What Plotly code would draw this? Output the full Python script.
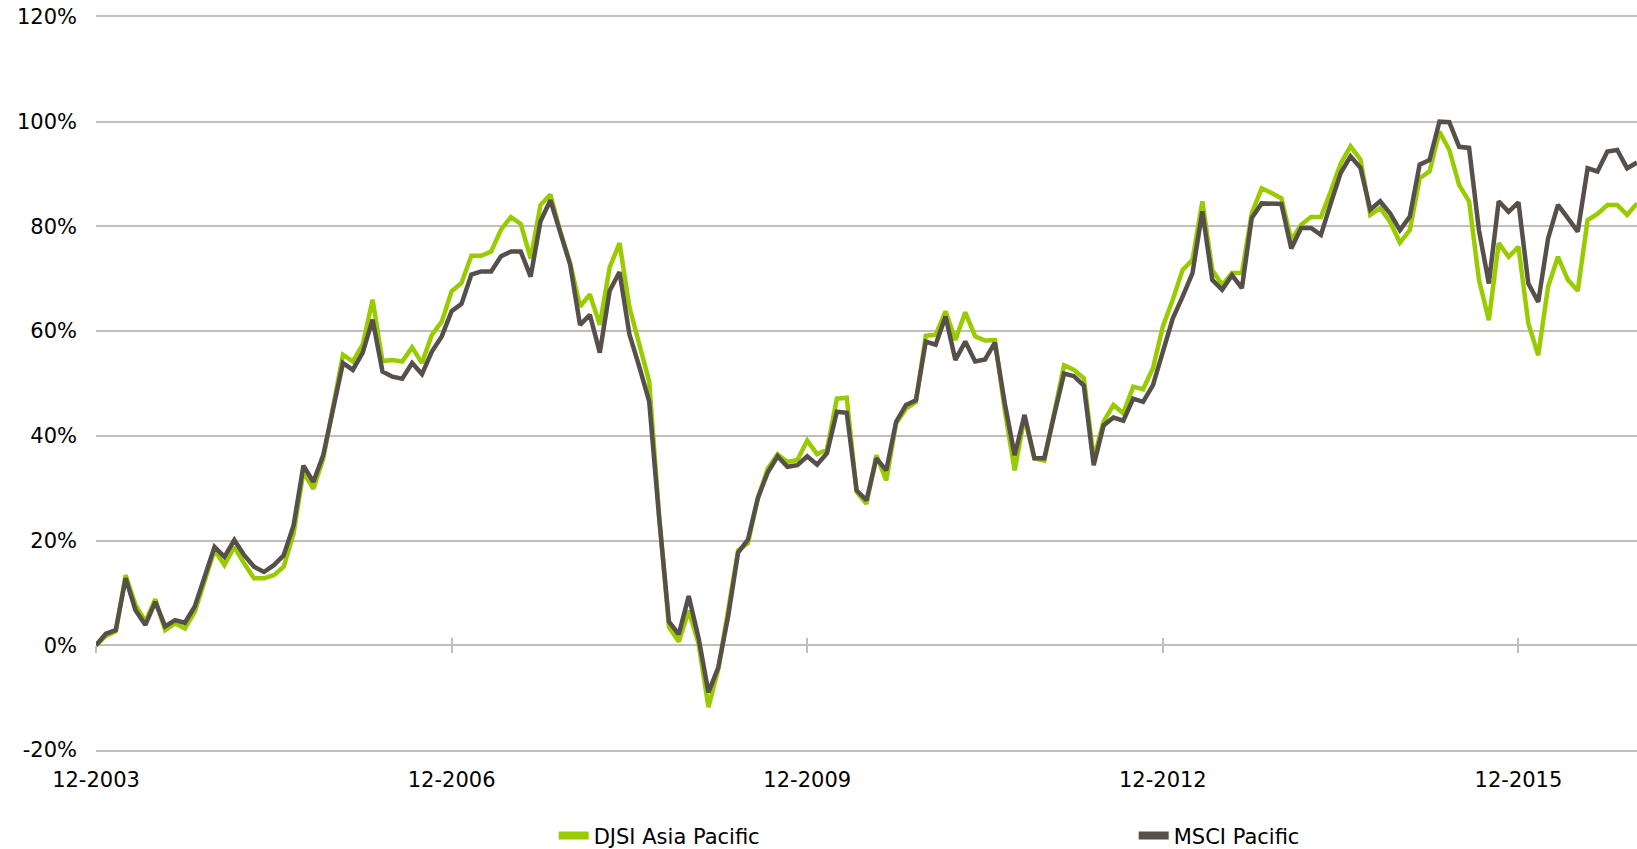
import plotly.graph_objects as go

# Monthly labels 12-2003 .. 12-2016
months = []
y0, m0 = 2003, 12
for k in range(157):
    mm = (m0 - 1 + k) % 12 + 1
    yy = y0 + (m0 - 1 + k) // 12
    months.append(f"{mm:02d}-{yy}")

tick_labels = ["12-2003", "12-2006", "12-2009", "12-2012", "12-2015"]

djsi = [
    0.0, 1.8, 2.7, 13.4, 7.7, 4.5, 8.8, 2.9, 4.2, 3.2,
    6.4, 12.1, 18.2, 15.3, 18.8, 15.6, 12.8, 12.8, 13.4, 15.0,
    21.3, 33.1, 29.9, 35.6, 45.5, 55.5, 54.2, 57.4, 66.0, 54.3,
    54.5, 54.2, 56.9, 53.9, 59.3, 61.8, 67.6, 69.2, 74.4, 74.4,
    75.2, 79.4, 81.8, 80.5, 73.9, 84.1, 86.1, 79.0, 73.0, 64.7,
    67.0, 61.2, 72.2, 76.8, 64.6, 57.3, 50.4, 25.0, 3.5, 0.7,
    6.6, 0.3, -11.8, -4.5, 6.3, 18.1, 19.5, 28.1, 33.7, 36.5,
    35.0, 35.4, 39.1, 36.5, 37.4, 47.1, 47.3, 29.3, 27.0, 36.3,
    31.5, 42.4, 45.2, 46.5, 59.1, 59.3, 63.8, 58.3, 63.6, 59.0,
    58.2, 58.3, 44.9, 33.4, 43.6, 35.7, 35.3, 44.9, 53.5, 52.6,
    51.0, 35.6, 42.7, 45.9, 44.3, 49.4, 48.9, 52.9, 60.9, 66.0,
    71.7, 73.6, 84.8, 71.7, 68.8, 71.1, 71.1, 82.5, 87.3, 86.4,
    85.4, 77.4, 80.3, 81.8, 81.8, 86.7, 92.0, 95.3, 92.8, 82.2,
    83.5, 80.9, 76.9, 79.3, 89.2, 90.5, 98.1, 94.6, 87.9, 84.8,
    69.8, 62.1, 76.8, 74.2, 76.1, 61.5, 55.4, 68.5, 74.2, 69.8,
    67.7, 81.2, 82.4, 84.1, 84.1, 82.2, 84.4,
]

msci = [
    0.0, 2.2, 2.9, 12.8, 6.7, 3.9, 8.3, 3.6, 4.8, 4.3,
    7.4, 13.1, 18.8, 16.9, 20.1, 17.2, 15.0, 14.0, 15.3, 17.2,
    22.9, 34.3, 31.2, 36.3, 45.0, 53.9, 52.6, 55.9, 62.2, 52.3,
    51.3, 50.9, 53.9, 51.8, 56.1, 59.0, 63.8, 65.2, 70.8, 71.4,
    71.4, 74.3, 75.2, 75.2, 70.4, 81.0, 85.0, 79.0, 72.7, 61.2,
    63.1, 55.9, 67.7, 71.3, 59.4, 53.2, 46.6, 24.5, 4.5, 2.1,
    9.4, 1.4, -9.0, -4.2, 5.6, 17.7, 20.2, 28.1, 33.0, 36.1,
    34.1, 34.4, 36.1, 34.5, 36.7, 44.6, 44.4, 29.6, 27.7, 35.7,
    33.4, 42.7, 45.9, 46.8, 58.0, 57.4, 62.8, 54.5, 58.0, 54.2,
    54.6, 57.8, 46.2, 36.3, 44.0, 35.7, 35.7, 44.0, 51.9, 51.4,
    49.6, 34.4, 42.0, 43.5, 42.9, 47.1, 46.5, 49.7, 55.8, 62.4,
    66.6, 71.1, 82.9, 69.8, 67.9, 70.7, 68.2, 81.6, 84.4, 84.3,
    84.3, 75.8, 79.7, 79.7, 78.4, 84.4, 90.2, 93.4, 91.2, 83.2,
    84.8, 82.5, 79.3, 81.9, 91.8, 92.7, 100.0, 99.9, 95.2, 95.0,
    79.3, 69.1, 84.8, 82.8, 84.6, 69.1, 65.6, 77.7, 84.1, 81.6,
    79.0, 91.1, 90.5, 94.3, 94.6, 91.1, 92.2,
]

series_names = ["DJSI Asia Pacific", "MSCI Pacific"]
series_colors = ["#99cc00", "#574f4a"]
GRID = "#c4bcb8"
FONT = "Verdana, DejaVu Sans, sans-serif"

fig = go.Figure()
for name, vals, col in zip(series_names, [djsi, msci], series_colors):
    fig.add_trace(go.Scatter(
        x=months, y=vals, mode="lines", name=name,
        line=dict(color=col, width=4.5), showlegend=False,
        xaxis="x", yaxis="y",
    ))
# legend-only entries with a thicker swatch
for name, col in zip(series_names, series_colors):
    fig.add_trace(go.Scatter(
        x=[None], y=[None], mode="lines", name=name,
        line=dict(color=col, width=8), showlegend=True,
    ))
# invisible traces on the helper axes (tick marks crossing the 0% line)
for ax in ["x2", "x3"]:
    fig.add_trace(go.Scatter(x=months, y=[None] * len(months), mode="lines",
                             xaxis=ax, yaxis="y", showlegend=False,
                             hoverinfo="skip"))

cat_axis = dict(type="category", categoryorder="array", categoryarray=months,
                range=[0, 156])
helper = dict(cat_axis, overlaying="x", anchor="free", position=1 / 7,
              tickmode="array", tickvals=tick_labels, showticklabels=False,
              showgrid=False, zeroline=False, showline=False, ticklen=7,
              tickwidth=1.5, tickcolor=GRID)

fig.update_layout(
    width=1637, height=849,
    margin=dict(l=96, r=0, t=17, b=99, autoexpand=False),
    paper_bgcolor="white", plot_bgcolor="white",
    font=dict(family=FONT, size=21, color="#000000"),
    xaxis=dict(
        cat_axis, tickmode="array", tickvals=tick_labels,
        ticktext=tick_labels, showgrid=False, zeroline=False,
        showline=True, mirror=True, linecolor=GRID, linewidth=1.5,
        ticks="", ticklabelstandoff=10, tickfont=dict(size=21),
        ticklabeloverflow="allow",
    ),
    xaxis2=dict(helper, ticks="outside"),
    xaxis3=dict(helper, ticks="inside"),
    yaxis=dict(
        range=[-20, 120], tickmode="array",
        tickvals=[-20, 0, 20, 40, 60, 80, 100, 120],
        ticktext=["-20%", "0%", "20%", "40%", "60%", "80%", "100%", "120%"],
        showgrid=True, gridcolor=GRID, gridwidth=1.5,
        zeroline=False, showline=False, ticks="", ticklabelstandoff=18,
        tickfont=dict(size=21), ticklabeloverflow="allow",
    ),
    legend=dict(
        orientation="h", x=0.297, xanchor="left", y=-0.117, yanchor="middle",
        entrywidth=535, entrywidthmode="pixels",
        font=dict(size=21), bgcolor="rgba(0,0,0,0)",
    ),
    showlegend=True,
)

fig.write_html(
    "out.html",
    config={"displayModeBar": False},
    post_script="document.body.style.margin='0';"
                "document.body.style.overflow='hidden';",
)
